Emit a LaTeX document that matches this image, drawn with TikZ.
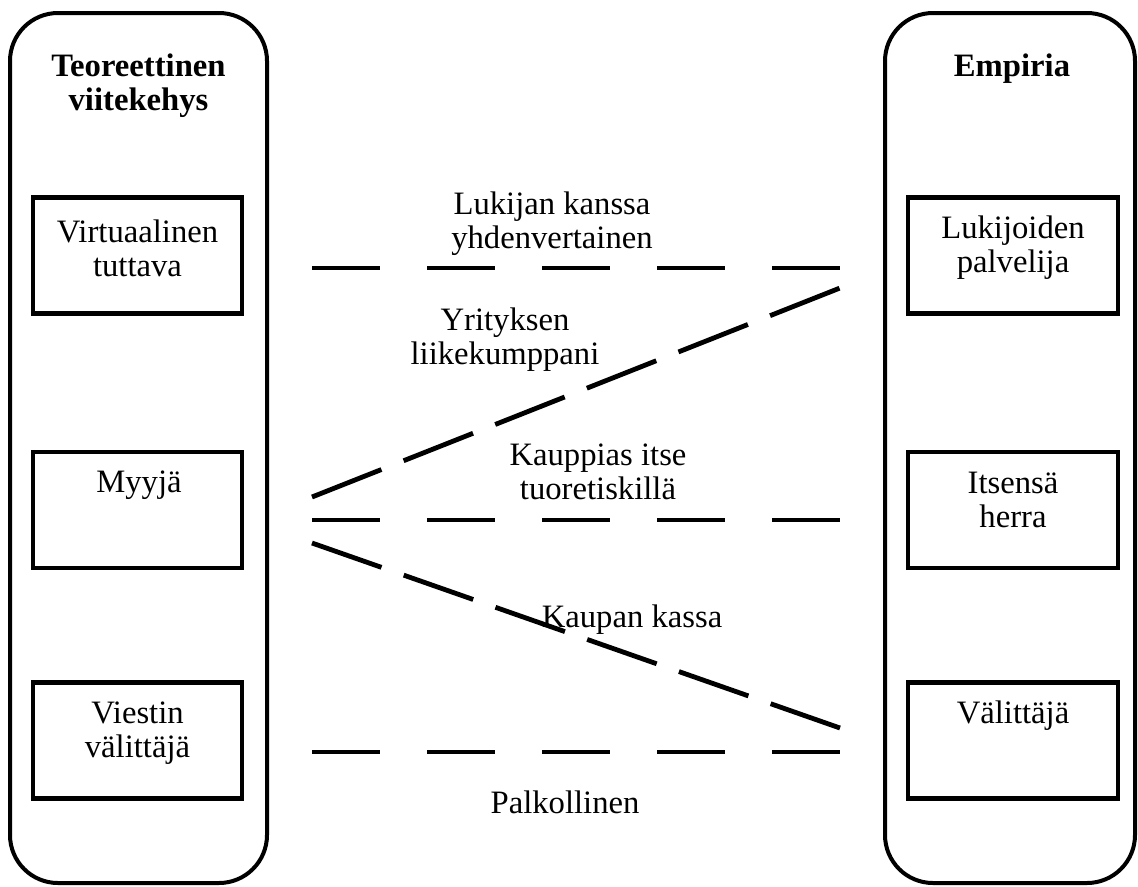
\documentclass[tikz,border=0pt]{standalone}
\usepackage{fontspec}
\setmainfont{Liberation Serif}
\usetikzlibrary{positioning}

\tikzset{
	frame/.style={draw, line width=3pt, rounded corners=36pt, minimum height=652.5pt},
	rolebox/.style={draw, line width=3.5pt, minimum height=87pt},
	roletext/.style={anchor=base, inner sep=0pt, align=center, font=\fontsize{24.5}{25.5}\selectfont},
	headtext/.style={roletext, font=\bfseries\fontsize{24.5}{25.5}\selectfont},
	link/.style={line width=3.6pt},
}

\begin{document}
\begin{tikzpicture}[x=0.75pt,y=0.75pt,yscale=-1,xscale=1]
	\useasboundingbox (0,0) rectangle (1138,886);
	
	%Shape: Rounded Rect [id:teoria] 
	\node (teoria) [frame, minimum width=192.75pt] at (138.5,448) {};
	%Shape: Rounded Rect [id:empiria] 
	\node (empiria) [frame, minimum width=187.5pt] at (1010,448) {};
	
	%Shape: Rectangle [id:left boxes] 
	\node (virtuaalinen) [rolebox, minimum width=156.75pt] at (137.5,255.5) {};
	\node (myyja) [rolebox, minimum width=156.75pt] at (137.5,510) {};
	\node (viestin) [rolebox, minimum width=156.75pt] at (137.5,740.5) {};
	%Shape: Rectangle [id:right boxes] 
	\node (lukijoiden) [rolebox, minimum width=157.5pt] at (1013,255.5) {};
	\node (itsensa) [rolebox, minimum width=157.5pt] at (1013,510) {};
	\node (valittaja) [rolebox, minimum width=157.5pt] at (1013,740.5) {};
	
	% Text Node (base = last line)
	\node (teoria-title) [headtext] at (138.5,110) {Teoreettinen\\viitekehys};
	% Text Node
	\node (empiria-title) [headtext] at (1012,76) {Empiria};
	% Text Node
	\node (virtuaalinen-text) [roletext] at (137.5,276) {Virtuaalinen\\tuttava};
	\node (myyja-text) [roletext] at (139,492) {Myyjä};
	\node (viestin-text) [roletext] at (137.5,757) {Viestin\\välittäjä};
	\node (lukijoiden-text) [roletext] at (1013,272) {Lukijoiden\\palvelija};
	\node (itsensa-text) [roletext] at (1013,527) {Itsensä\\herra};
	\node (valittaja-text) [roletext] at (1013,723) {Välittäjä};
	
	%Straight Lines [id:ends] 
	\coordinate (a1) at (312,268);  \coordinate (b1) at (840,268);
	\coordinate (a2) at (312,497);  \coordinate (b2) at (840,288);
	\coordinate (a3) at (312,520);  \coordinate (b3) at (840,520);
	\coordinate (a4) at (312,543);  \coordinate (b4) at (840,728);
	\coordinate (a5) at (312,752);  \coordinate (b5) at (840,752);
	
	%Straight Lines [id:links] 
	\draw [link, dash pattern=on 51pt off 35.25pt] (a1) -- (b1) ;
	\draw [link, dash pattern=on 56pt off 17.9pt] (a2) -- (b2) ;
	\draw [link, dash pattern=on 51pt off 35.25pt] (a3) -- (b3) ;
	\draw [link, dash pattern=on 55.2pt off 17.7pt] (a4) -- (b4) ;
	\draw [link, dash pattern=on 51pt off 35.25pt] (a5) -- (b5) ;
	
	% Text Node
	\node (lab-yhden) [roletext] at (552,248) {Lukijan kanssa\\yhdenvertainen};
	\node (lab-yritys) [roletext] at (505,364) {Yrityksen\\liikekumppani};
	\node (lab-kauppias) [roletext] at (598,499) {Kauppias itse\\tuoretiskillä};
	\node (lab-kassa) [roletext] at (632,627) {Kaupan kassa};
	\node (lab-palkka) [roletext] at (565,813) {Palkollinen};
	
\end{tikzpicture}
\end{document}
